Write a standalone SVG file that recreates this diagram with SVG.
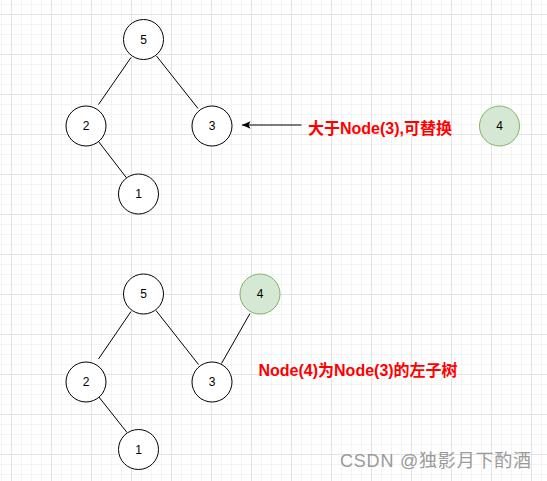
<svg xmlns="http://www.w3.org/2000/svg" width="547" height="481" viewBox="0 0 547 481">
<defs>
<pattern id="minor" patternUnits="userSpaceOnUse" x="11" y="14" width="10" height="10">
<path d="M0.5 0V10M0 0.5H10" stroke="#f3f3f3" stroke-width="1" fill="none"/>
</pattern>
<pattern id="major" patternUnits="userSpaceOnUse" x="11" y="14" width="40" height="40">
<path d="M0.5 0V40M0 0.5H40" stroke="#e3e3e3" stroke-width="1" fill="none"/>
</pattern>
<marker id="arrow" markerUnits="userSpaceOnUse" markerWidth="10" markerHeight="8" refX="9" refY="4" orient="auto" viewBox="0 0 10 8">
<path d="M9 4L0.5 0.3L2.5 4L0.5 7.7Z" fill="#000"/>
</marker>
<style>
.n circle{fill:#fff;stroke:#000;stroke-width:1}
.g circle{fill:#d5e8d4;stroke:#82b366;stroke-width:1}
.n text,.g text{font-family:"Liberation Sans",Arial,sans-serif;font-size:12px;fill:#000;text-anchor:middle}
.e line{stroke:#000;stroke-width:1;fill:none}
.lbl{font-family:"Liberation Sans","Noto Sans CJK SC",sans-serif;font-size:16px;font-weight:bold;fill:#ff0000}
.wm{font-family:"Liberation Sans","Noto Sans CJK SC",sans-serif;font-size:18px;fill:#9a9a9a}
</style>
</defs>
<rect width="547" height="481" fill="#fff"/>
<rect width="547" height="481" fill="url(#minor)"/>
<rect width="547" height="481" fill="url(#major)"/>

<g id="connectors" class="e">
<line x1="131" y1="57.5" x2="98.5" y2="104.5"/>
<line x1="156.5" y1="56" x2="198" y2="108.5"/>
<line x1="98.5" y1="141.5" x2="127" y2="178.5"/>
<line x1="301.5" y1="125" x2="242" y2="125" marker-end="url(#arrow)"/>
<line x1="131" y1="311.5" x2="98.5" y2="359"/>
<line x1="156" y1="310.5" x2="198.5" y2="364.5"/>
<line x1="250" y1="313.5" x2="221.5" y2="363.5"/>
<line x1="98.5" y1="396.5" x2="127" y2="432.5"/>
</g>

<g id="t5" class="n"><circle cx="143.5" cy="39.5" r="20"/><text x="143.5" y="43.5">5</text></g>
<g id="t2" class="n"><circle cx="86" cy="126" r="20"/><text x="86" y="130">2</text></g>
<g id="t3" class="n"><circle cx="212" cy="126" r="20"/><text x="212" y="130">3</text></g>
<g id="t1" class="n"><circle cx="138.5" cy="194" r="20"/><text x="138.5" y="198">1</text></g>
<g id="t4" class="g"><circle cx="499.5" cy="126" r="20"/><text x="499.5" y="130">4</text></g>

<g id="b5" class="n"><circle cx="143.5" cy="294" r="20"/><text x="143.5" y="298">5</text></g>
<g id="b4" class="g"><circle cx="260" cy="294" r="20"/><text x="260" y="298">4</text></g>
<g id="b2" class="n"><circle cx="86" cy="382" r="20"/><text x="86" y="386">2</text></g>
<g id="b3" class="n"><circle cx="212" cy="382" r="20"/><text x="212" y="386">3</text></g>
<g id="b1" class="n"><circle cx="138.5" cy="449.5" r="20"/><text x="138.5" y="453.5">1</text></g>

<g id="label1"><text class="lbl" x="308" y="134">大于Node(3),可替换</text></g>
<g id="label2"><text class="lbl" x="258.5" y="376">Node(4)为Node(3)的左子树</text></g>
<text class="wm" x="340" y="467" textLength="191" lengthAdjust="spacing">CSDN @独影月下酌酒</text>
</svg>
